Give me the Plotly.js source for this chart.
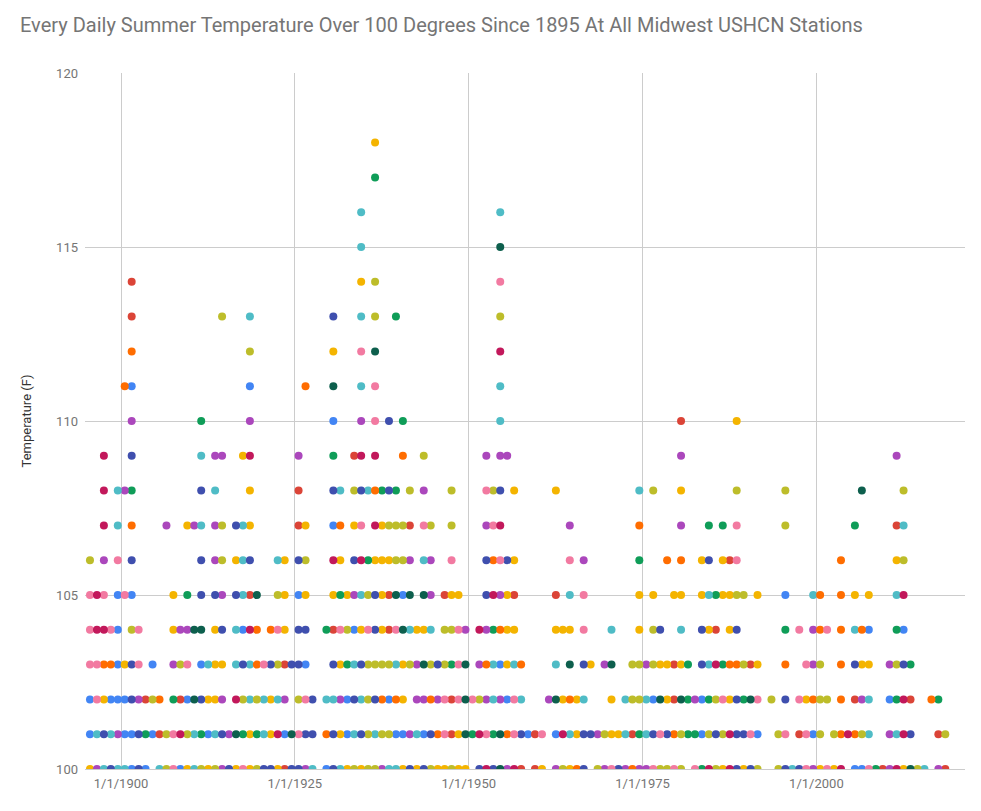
<!DOCTYPE html>
<html>
<head>
<meta charset="utf-8">
<script src="https://cdn.plot.ly/plotly-3.0.1.min.js"></script>
<style>html,body{margin:0;padding:0;background:#fff;}#chart{width:981px;height:811px;}</style>
</head>
<body>
<div id="chart"></div>
<script>
// Station colour codes (Google Sheets palette order)
const stationCodes = ['B','R','Y','G','P','C','O','L','I','K','D','M'];
const stationColors = ['#4285f4','#db4437','#f4b400','#0f9d58','#ab47bc','#4fbcc6','#ff6d00','#bdbd2a','#3f4fae','#f27aa1','#0d5f4d','#c2185b'];

// Readings per temperature: [year, station]
const row118 = [[1936,'Y']];
const row117 = [[1936,'G']];
const row116 = [[1934,'C'],[1954,'C']];
const row115 = [[1934,'C'],[1954,'D']];
const row114 = [[1901,'R'],[1934,'Y'],[1936,'L'],[1954,'K']];
const row113 = [[1901,'R'],[1914,'L'],[1918,'C'],[1930,'I'],[1934,'C'],[1936,'L'],[1939,'G'],[1954,'L']];
const row112 = [[1901,'O'],[1918,'L'],[1930,'Y'],[1934,'K'],[1936,'D'],[1954,'M']];
const row111 = [[1900,'O'],[1901,'B'],[1918,'B'],[1926,'O'],[1930,'D'],[1934,'C'],[1936,'K'],[1954,'C']];
const row110 = [[1901,'P'],[1911,'G'],[1918,'P'],[1930,'B'],[1934,'P'],[1936,'K'],[1938,'I'],[1940,'G'],[1954,'C'],[1980,'R'],[1988,'Y']];
const row109 = [[1897,'M'],[1901,'I'],[1911,'C'],[1913,'P'],[1914,'P'],[1917,'Y'],[1918,'M'],[1925,'P'],[1930,'G'],[1933,'R'],[1934,'M'],[1936,'M'],[1940,'O'],[1943,'L'],[1952,'P'],[1954,'P'],[1955,'P'],[1980,'P'],[2011,'P']];
const row108 = [[1897,'M'],[1899,'C'],[1900,'P'],[1901,'G'],[1911,'I'],[1913,'C'],[1918,'Y'],[1925,'R'],[1930,'I'],[1931,'C'],[1933,'L'],[1934,'I'],[1935,'C'],[1936,'O'],[1937,'G'],[1938,'I'],[1939,'G'],[1941,'L'],[1943,'P'],[1947,'L'],[1952,'K'],[1953,'L'],[1954,'I'],[1956,'Y'],[1962,'Y'],[1974,'C'],[1976,'L'],[1980,'Y'],[1988,'L'],[1995,'L'],[2006,'D'],[2012,'L']];
const row107 = [[1897,'M'],[1899,'C'],[1901,'O'],[1906,'P'],[1909,'Y'],[1910,'P'],[1911,'C'],[1913,'P'],[1914,'L'],[1916,'I'],[1917,'C'],[1918,'Y'],[1925,'R'],[1926,'Y'],[1930,'B'],[1931,'O'],[1933,'Y'],[1934,'K'],[1936,'M'],[1937,'Y'],[1938,'L'],[1939,'L'],[1940,'L'],[1941,'R'],[1943,'K'],[1944,'L'],[1947,'L'],[1952,'P'],[1953,'K'],[1954,'M'],[1964,'P'],[1974,'O'],[1980,'P'],[1984,'G'],[1986,'G'],[1988,'K'],[1995,'L'],[2005,'G'],[2011,'R'],[2012,'C']];
const row106 = [[1895,'L'],[1897,'P'],[1899,'K'],[1901,'I'],[1911,'I'],[1913,'P'],[1914,'L'],[1916,'Y'],[1917,'C'],[1918,'I'],[1922,'C'],[1923,'Y'],[1925,'I'],[1926,'L'],[1930,'M'],[1931,'Y'],[1933,'I'],[1934,'M'],[1935,'G'],[1936,'Y'],[1937,'Y'],[1938,'Y'],[1939,'L'],[1940,'L'],[1941,'P'],[1943,'C'],[1944,'P'],[1947,'K'],[1952,'I'],[1953,'O'],[1954,'K'],[1955,'I'],[1956,'Y'],[1964,'K'],[1966,'P'],[1974,'G'],[1978,'O'],[1980,'O'],[1983,'Y'],[1984,'I'],[1986,'Y'],[1987,'R'],[1988,'K'],[2003,'O'],[2011,'Y'],[2012,'L']];
const row105 = [[1895,'K'],[1896,'M'],[1897,'K'],[1899,'B'],[1900,'K'],[1901,'B'],[1907,'Y'],[1909,'G'],[1911,'I'],[1913,'I'],[1914,'P'],[1916,'I'],[1917,'C'],[1918,'R'],[1919,'D'],[1922,'L'],[1923,'Y'],[1925,'B'],[1926,'Y'],[1930,'Y'],[1931,'G'],[1932,'Y'],[1933,'P'],[1934,'C'],[1935,'L'],[1936,'I'],[1937,'Y'],[1938,'R'],[1939,'D'],[1940,'B'],[1941,'D'],[1943,'D'],[1944,'P'],[1946,'R'],[1947,'Y'],[1948,'Y'],[1952,'I'],[1953,'M'],[1954,'P'],[1955,'Y'],[1956,'R'],[1962,'R'],[1964,'C'],[1966,'K'],[1974,'Y'],[1976,'Y'],[1979,'Y'],[1980,'Y'],[1983,'Y'],[1984,'C'],[1985,'G'],[1986,'Y'],[1987,'Y'],[1988,'L'],[1989,'L'],[1991,'Y'],[1995,'B'],[1999,'C'],[2000,'O'],[2003,'O'],[2005,'Y'],[2007,'Y'],[2011,'C'],[2012,'M']];
const row104 = [[1895,'K'],[1896,'M'],[1897,'M'],[1898,'K'],[1899,'B'],[1901,'L'],[1902,'K'],[1907,'Y'],[1908,'P'],[1909,'P'],[1910,'D'],[1911,'D'],[1913,'Y'],[1914,'I'],[1916,'C'],[1917,'B'],[1918,'M'],[1919,'O'],[1921,'O'],[1922,'K'],[1923,'Y'],[1925,'I'],[1926,'I'],[1929,'G'],[1930,'R'],[1931,'K'],[1932,'L'],[1933,'B'],[1934,'Y'],[1935,'K'],[1936,'I'],[1937,'Y'],[1938,'R'],[1939,'K'],[1940,'D'],[1941,'C'],[1942,'Y'],[1943,'Y'],[1944,'C'],[1946,'L'],[1947,'L'],[1948,'K'],[1949,'P'],[1951,'M'],[1952,'P'],[1953,'G'],[1954,'O'],[1955,'Y'],[1956,'Y'],[1962,'Y'],[1963,'Y'],[1964,'Y'],[1966,'K'],[1970,'C'],[1974,'Y'],[1976,'L'],[1977,'I'],[1980,'C'],[1983,'I'],[1984,'Y'],[1985,'R'],[1987,'Y'],[1988,'I'],[1995,'G'],[1997,'K'],[1999,'P'],[2000,'O'],[2001,'K'],[2003,'O'],[2005,'C'],[2006,'O'],[2007,'B'],[2011,'G'],[2012,'B']];
const row103 = [[1895,'K'],[1896,'K'],[1897,'O'],[1898,'O'],[1899,'B'],[1900,'Y'],[1901,'I'],[1902,'K'],[1904,'B'],[1907,'P'],[1908,'L'],[1909,'K'],[1911,'B'],[1912,'C'],[1913,'Y'],[1914,'Y'],[1916,'C'],[1917,'I'],[1918,'C'],[1919,'O'],[1920,'K'],[1921,'I'],[1922,'L'],[1923,'R'],[1924,'I'],[1925,'I'],[1926,'B'],[1930,'I'],[1931,'Y'],[1932,'G'],[1933,'C'],[1934,'I'],[1935,'L'],[1936,'L'],[1937,'L'],[1938,'L'],[1939,'C'],[1940,'Y'],[1941,'L'],[1942,'P'],[1943,'D'],[1944,'L'],[1945,'I'],[1946,'L'],[1947,'G'],[1948,'K'],[1949,'D'],[1951,'P'],[1952,'O'],[1953,'C'],[1954,'B'],[1955,'Y'],[1956,'C'],[1957,'O'],[1962,'C'],[1964,'D'],[1966,'I'],[1967,'Y'],[1969,'P'],[1970,'D'],[1973,'L'],[1974,'L'],[1975,'P'],[1976,'L'],[1977,'Y'],[1978,'Y'],[1979,'R'],[1980,'Y'],[1981,'G'],[1983,'I'],[1984,'C'],[1985,'M'],[1986,'G'],[1987,'O'],[1988,'O'],[1989,'L'],[1990,'R'],[1991,'Y'],[1995,'O'],[1998,'K'],[1999,'P'],[2000,'L'],[2003,'O'],[2005,'I'],[2006,'Y'],[2007,'Y'],[2010,'P'],[2011,'L'],[2012,'I'],[2013,'G']];
const row102 = [[1895,'B'],[1896,'K'],[1897,'Y'],[1898,'B'],[1899,'B'],[1900,'B'],[1901,'I'],[1902,'P'],[1903,'R'],[1904,'L'],[1905,'O'],[1907,'G'],[1908,'R'],[1909,'B'],[1910,'D'],[1911,'I'],[1912,'Y'],[1913,'Y'],[1914,'P'],[1916,'M'],[1917,'L'],[1918,'C'],[1919,'L'],[1920,'C'],[1921,'Y'],[1922,'C'],[1923,'P'],[1925,'L'],[1926,'K'],[1927,'I'],[1929,'C'],[1930,'C'],[1931,'P'],[1932,'B'],[1933,'I'],[1934,'C'],[1935,'L'],[1936,'I'],[1937,'O'],[1938,'B'],[1939,'O'],[1940,'Y'],[1942,'P'],[1943,'P'],[1944,'O'],[1945,'P'],[1946,'K'],[1947,'R'],[1948,'K'],[1949,'D'],[1950,'K'],[1951,'L'],[1952,'P'],[1953,'C'],[1954,'P'],[1955,'B'],[1956,'K'],[1957,'C'],[1961,'P'],[1962,'D'],[1963,'Y'],[1964,'O'],[1965,'Y'],[1966,'C'],[1970,'Y'],[1972,'C'],[1973,'L'],[1974,'L'],[1975,'C'],[1976,'B'],[1977,'D'],[1978,'Y'],[1979,'R'],[1980,'D'],[1981,'G'],[1982,'P'],[1983,'B'],[1984,'G'],[1985,'L'],[1986,'K'],[1987,'Y'],[1988,'I'],[1989,'G'],[1990,'D'],[1991,'K'],[1993,'L'],[1995,'I'],[1997,'K'],[1998,'Y'],[1999,'O'],[2000,'L'],[2001,'L'],[2003,'O'],[2005,'R'],[2006,'P'],[2007,'C'],[2010,'B'],[2011,'G'],[2012,'M'],[2013,'R'],[2016,'O'],[2017,'G']];
const row101 = [[1895,'B'],[1896,'C'],[1897,'I'],[1898,'C'],[1899,'P'],[1900,'B'],[1901,'B'],[1902,'I'],[1903,'G'],[1904,'B'],[1905,'R'],[1906,'L'],[1907,'K'],[1908,'M'],[1909,'L'],[1910,'C'],[1911,'G'],[1912,'B'],[1913,'C'],[1914,'I'],[1915,'P'],[1916,'D'],[1917,'G'],[1918,'Y'],[1919,'G'],[1920,'C'],[1921,'Y'],[1922,'M'],[1923,'B'],[1924,'D'],[1925,'K'],[1926,'I'],[1927,'I'],[1929,'O'],[1930,'I'],[1931,'Y'],[1932,'B'],[1933,'C'],[1934,'I'],[1935,'L'],[1936,'C'],[1937,'L'],[1938,'L'],[1939,'B'],[1940,'B'],[1941,'P'],[1942,'C'],[1943,'B'],[1944,'I'],[1945,'O'],[1946,'K'],[1947,'R'],[1948,'Y'],[1949,'D'],[1950,'G'],[1951,'M'],[1952,'K'],[1953,'G'],[1954,'D'],[1955,'O'],[1956,'K'],[1957,'I'],[1958,'B'],[1959,'R'],[1960,'K'],[1962,'B'],[1963,'M'],[1964,'C'],[1965,'Y'],[1966,'I'],[1967,'I'],[1968,'P'],[1969,'L'],[1970,'Y'],[1971,'Y'],[1972,'C'],[1973,'R'],[1974,'G'],[1975,'C'],[1976,'I'],[1977,'K'],[1978,'I'],[1979,'O'],[1980,'L'],[1981,'G'],[1982,'G'],[1983,'B'],[1984,'L'],[1985,'I'],[1986,'L'],[1987,'M'],[1988,'I'],[1989,'I'],[1990,'K'],[1991,'B'],[1994,'L'],[1995,'K'],[1997,'R'],[1998,'K'],[1999,'B'],[2000,'L'],[2002,'L'],[2003,'O'],[2004,'M'],[2005,'O'],[2006,'L'],[2007,'C'],[2010,'P'],[2011,'C'],[2012,'M'],[2013,'I'],[2017,'R'],[2018,'L']];
const row100 = [[1895,'Y'],[1896,'P'],[1897,'C'],[1898,'I'],[1899,'C'],[1900,'C'],[1901,'B'],[1902,'I'],[1903,'B'],[1905,'C'],[1906,'L'],[1907,'K'],[1908,'B'],[1909,'Y'],[1910,'C'],[1911,'L'],[1912,'Y'],[1913,'L'],[1914,'P'],[1915,'I'],[1916,'Y'],[1917,'K'],[1918,'Y'],[1919,'L'],[1920,'I'],[1921,'I'],[1922,'Y'],[1923,'R'],[1924,'I'],[1925,'I'],[1926,'P'],[1927,'C'],[1929,'B'],[1930,'I'],[1931,'C'],[1932,'Y'],[1933,'L'],[1934,'Y'],[1935,'L'],[1936,'L'],[1937,'P'],[1938,'C'],[1939,'C'],[1940,'Y'],[1941,'I'],[1942,'Y'],[1943,'I'],[1944,'L'],[1945,'Y'],[1946,'Y'],[1947,'L'],[1948,'Y'],[1949,'Y'],[1951,'I'],[1952,'M'],[1953,'I'],[1954,'D'],[1955,'P'],[1956,'M'],[1957,'R'],[1959,'R'],[1960,'Y'],[1962,'P'],[1963,'L'],[1964,'Y'],[1965,'O'],[1966,'I'],[1968,'L'],[1969,'P'],[1970,'K'],[1971,'I'],[1972,'P'],[1973,'O'],[1974,'P'],[1975,'P'],[1976,'K'],[1977,'L'],[1978,'L'],[1979,'K'],[1980,'L'],[1982,'K'],[1983,'G'],[1984,'M'],[1985,'L'],[1986,'Y'],[1987,'M'],[1988,'I'],[1989,'Y'],[1990,'I'],[1991,'L'],[1994,'L'],[1995,'I'],[1996,'C'],[1997,'I'],[1998,'K'],[1999,'P'],[2000,'Y'],[2001,'K'],[2002,'Y'],[2003,'M'],[2005,'B'],[2006,'B'],[2007,'K'],[2008,'G'],[2009,'R'],[2010,'P'],[2011,'M'],[2012,'Y'],[2013,'D'],[2014,'L'],[2015,'C'],[2017,'P'],[2018,'R']];

const temperatures = [100,101,102,103,104,105,106,107,108,109,110,111,112,113,114,115,116,117,118];
const rows = [row100,row101,row102,row103,row104,row105,row106,row107,row108,row109,row110,row111,row112,row113,row114,row115,row116,row117,row118];

const tickDates = ['1900-01-01','1925-01-01','1950-01-01','1975-01-01','2000-01-01'];
const tickLabels = ['1/1/1900','1/1/1925','1/1/1950','1/1/1975','1/1/2000'];
const yTicks = [100,105,110,115,120];

const traces = stationCodes.map(function(code, i){
  const xs = [], ys = [];
  rows.forEach(function(row, r){
    row.forEach(function(p){
      if (p[1] === code) { xs.push(p[0] + '-07-15'); ys.push(temperatures[r]); }
    });
  });
  return {
    type: 'scatter', mode: 'markers', name: 'Station ' + code,
    x: xs, y: ys,
    marker: {color: stationColors[i], size: 8, line: {width: 0}},
    hoverinfo: 'x+y', cliponaxis: true
  };
});

const font = 'Roboto, Arial, sans-serif';
const layout = {
  width: 981, height: 811,
  margin: {l: 85, r: 16, t: 73, b: 42, pad: 0},
  paper_bgcolor: '#ffffff', plot_bgcolor: '#ffffff',
  showlegend: false,
  title: {
    text: 'Every Daily Summer Temperature Over 100 Degrees Since 1895 At All Midwest USHCN Stations',
    font: {family: font, size: 20, color: '#757575'},
    xref: 'container', yref: 'container', x: 20/981, xanchor: 'left', y: 1 - 25/811, yanchor: 'middle'
  },
  xaxis: {
    type: 'date',
    range: ['1894-10-27', '2021-05-15'],
    tickmode: 'array', tickvals: tickDates, ticktext: tickLabels,
    showgrid: true, gridcolor: '#cccccc', gridwidth: 1,
    zeroline: false, showline: true, linecolor: '#cccccc', linewidth: 1,
    ticks: '', ticklabelstandoff: 2,
    tickfont: {family: font, size: 13, color: '#757575'}
  },
  yaxis: {
    range: [100, 120],
    tickmode: 'array', tickvals: yTicks, ticktext: yTicks.map(String),
    showgrid: true, gridcolor: '#cccccc', gridwidth: 1,
    zeroline: false, showline: false, ticks: '', ticklabelstandoff: 6,
    tickfont: {family: font, size: 13, color: '#757575'},
    title: {text: 'Temperature (F)', font: {family: font, size: 13, color: '#333333'}, standoff: 21}
  }
};

Plotly.newPlot('chart', traces, layout, {displayModeBar: false, staticPlot: true});
</script>
</body>
</html>
